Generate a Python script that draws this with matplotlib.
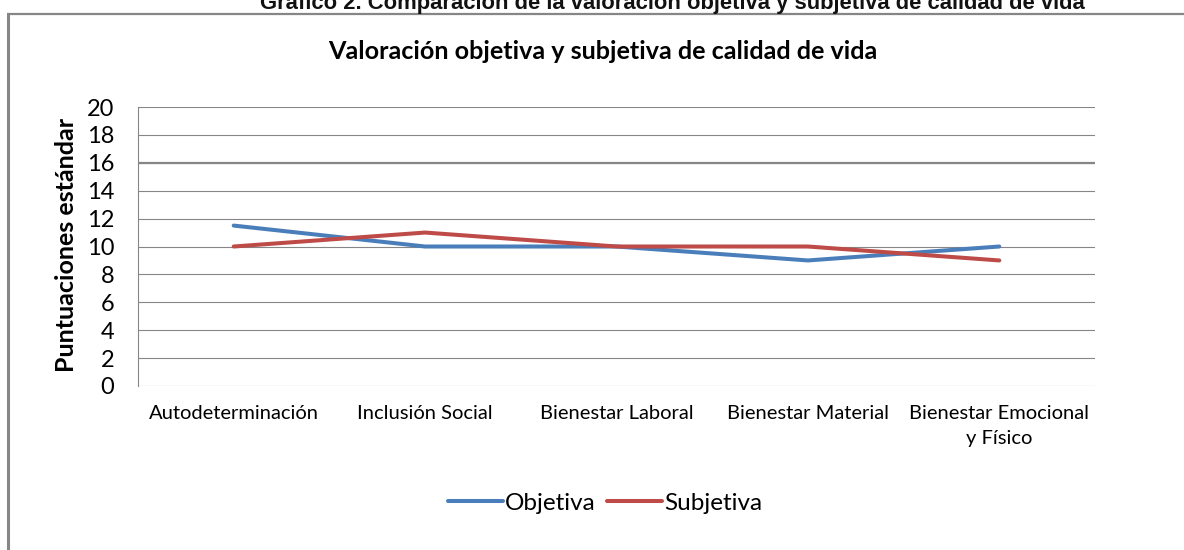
import matplotlib.pyplot as plt
import matplotlib.ticker as mticker
from matplotlib.lines import Line2D

categories = ["Autodeterminación", "Inclusión Social", "Bienestar Laboral",
              "Bienestar Material", "Bienestar Emocional\ny Físico"]
objetiva = [11.5, 10, 10, 9, 10]
subjetiva = [10, 11, 10, 10, 9]
y_ticks = [0, 2, 4, 6, 8, 10, 12, 14, 16, 18, 20]

W, H = 1184, 550
fig = plt.figure(figsize=(W / 100, H / 100), dpi=100)
plt.rcParams['font.family'] = ['Lato', 'DejaVu Sans']

grey = '#868686'

# outer frame of the chart object (left and top edges visible)
fig.add_artist(Line2D([7.5 / W, 7.5 / W], [0, 1 - 13.5 / H], transform=fig.transFigure,
                      color=grey, lw=2.2, solid_capstyle='butt'))
fig.add_artist(Line2D([6.5 / W, 1], [1 - 13.5 / H, 1 - 13.5 / H], transform=fig.transFigure,
                      color=grey, lw=1.6, solid_capstyle='butt'))

# caption of the document, clipped at the top
fig.text(672 / W, 1 - 9.5 / H,
         "Gráfico 2. Comparación de la valoración objetiva y subjetiva de calidad de vida",
         ha='center', va='baseline', fontsize=15.8, fontweight='bold',
         family=['Liberation Sans', 'DejaVu Sans'], color='#111111')

ax = fig.add_axes([138 / W, 1 - 386 / H, (1095 - 138) / W, (386 - 107) / H])

x = list(range(len(categories)))
ax.plot(x, objetiva, color='#4A7EBB', lw=2.9, label='Objetiva', solid_capstyle='round')
ax.plot(x, subjetiva, color='#BE4B48', lw=2.9, label='Subjetiva', solid_capstyle='round')

ax.set_xlim(-0.5, len(categories) - 0.5)
ax.set_ylim(0, 20)
ax.yaxis.set_major_locator(mticker.FixedLocator(y_ticks))
ax.set_xticks(x)
ax.set_xticklabels(categories, fontsize=14.5, linespacing=1.55)
ax.tick_params(axis='x', length=0, pad=14)
ax.tick_params(axis='y', length=0, pad=17, labelsize=17)
ax.grid(axis='y', color=grey, lw=0.8)
ax.axhline(16, color=grey, lw=1.6, zorder=0.9)
ax.set_axisbelow(True)
for s in ['top', 'right', 'bottom']:
    ax.spines[s].set_visible(False)
ax.spines['left'].set_color(grey)
ax.spines['left'].set_linewidth(0.8)

ax.set_ylabel("Puntuaciones estándar", fontsize=18, fontweight='bold')
ax.yaxis.set_label_coords((78 - 138) / (1095 - 138), (386 - 245) / (386 - 107))

fig.text(603 / W, 1 - 52 / H, "Valoración objetiva y subjetiva de calidad de vida",
         ha='center', va='center', fontsize=18.1, fontweight='bold')

fig.legend(loc='center', bbox_to_anchor=(605 / W, 1 - 503 / H), ncol=2, frameon=False,
           fontsize=17.5, handlelength=2.26, handletextpad=0.1, columnspacing=0.45)

fig.savefig("out.png", dpi=100)
